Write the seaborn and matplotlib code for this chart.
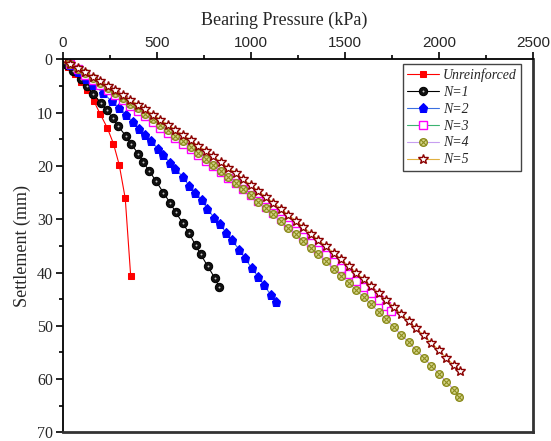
import matplotlib
matplotlib.use("Agg")
import matplotlib.pyplot as plt
import seaborn as sns
from matplotlib.ticker import MultipleLocator

sns.set_theme(style="ticks")
plt.rcParams["font.family"] = ["Liberation Serif", "DejaVu Serif"]

# bearing pressure (kPa) / settlement (mm)
unr_p = [0, 30, 66, 100, 128, 167, 199, 238, 270, 301, 333, 362]
unr_s = [0, 1.4, 2.8, 4.2, 5.7, 7.9, 10.2, 12.9, 15.8, 19.8, 26.1, 40.7]

n1_p = [0, 25, 57, 96, 130, 163, 204, 234, 266, 296, 337, 362, 402, 429, 461,
        496, 535, 571, 601, 638, 672, 707, 734, 771, 810, 833]
n1_s = [0, 1.0, 2.2, 3.7, 5.1, 6.5, 8.2, 9.6, 11.0, 12.6, 14.4, 15.8, 17.7, 19.3, 21.0,
        22.8, 25.0, 26.9, 28.7, 30.7, 32.6, 34.9, 36.6, 38.8, 41.1, 42.8]

n2_p = [0, 40, 82, 122, 163, 216, 261, 301, 337, 372, 408, 438, 468, 509, 532, 571,
        597, 638, 672, 705, 739, 769, 804, 836, 868, 898, 939, 969, 1005, 1040, 1072,
        1106, 1134]
n2_s = [0, 1.1, 2.4, 3.6, 4.8, 6.3, 7.9, 9.1, 10.4, 11.8, 13.0, 14.2, 15.4, 16.8, 17.9, 19.4,
        20.5, 22.0, 23.7, 25.0, 26.4, 28.0, 29.7, 30.9, 32.5, 33.9, 35.7, 37.3, 39.2, 40.8, 42.4,
        44.2, 45.5]

n3_p = [0, 40, 80, 120, 160, 200, 240, 280, 320, 360, 400, 440, 480, 520, 560, 600,
        640, 680, 720, 760, 800, 840, 880, 920, 960, 1000, 1040, 1080, 1120, 1160, 1200,
        1240, 1280, 1320, 1360, 1400, 1440, 1480, 1520, 1560, 1600, 1640, 1680, 1720, 1745]
n3_s = [0, 0.9, 1.9, 2.9, 3.8, 4.8, 5.8, 6.7, 7.7, 8.7, 9.7, 10.7, 11.7, 12.8, 13.8, 14.8,
        15.9, 16.9, 18.0, 19.0, 20.1, 21.2, 22.2, 23.3, 24.4, 25.5, 26.6, 27.7, 28.8, 30.0, 31.1,
        32.2, 33.4, 34.5, 35.7, 36.8, 38.0, 39.2, 40.3, 41.5, 42.7, 43.9, 45.1, 46.3, 47.3]

n4_p = [0, 40, 80, 120, 160, 200, 240, 280, 320, 360, 400, 440, 480, 520, 560, 600,
        640, 680, 720, 760, 800, 840, 880, 920, 960, 1000, 1040, 1080, 1120, 1160, 1200,
        1240, 1280, 1320, 1360, 1400, 1440, 1480, 1520, 1560, 1600, 1640, 1680, 1720, 1760,
        1800, 1840, 1880, 1920, 1960, 2000, 2040, 2080, 2105]
n4_s = [0, 0.9, 1.8, 2.6, 3.5, 4.5, 5.4, 6.3, 7.3, 8.3, 9.2, 10.2, 11.2, 12.3, 13.3, 14.3,
        15.4, 16.5, 17.6, 18.7, 19.8, 20.9, 22.0, 23.2, 24.3, 25.5, 26.7, 27.9, 29.1, 30.3, 31.6,
        32.8, 34.1, 35.4, 36.6, 37.9, 39.3, 40.6, 41.9, 43.3, 44.6, 46.0, 47.4, 48.8, 50.2,
        51.7, 53.1, 54.6, 56.0, 57.5, 59.0, 60.5, 62.0, 63.3]

n5_p = [0, 40, 80, 120, 160, 200, 240, 280, 320, 360, 400, 440, 480, 520, 560, 600,
        640, 680, 720, 760, 800, 840, 880, 920, 960, 1000, 1040, 1080, 1120, 1160, 1200,
        1240, 1280, 1320, 1360, 1400, 1440, 1480, 1520, 1560, 1600, 1640, 1680, 1720, 1760,
        1800, 1840, 1880, 1920, 1960, 2000, 2040, 2080, 2112]
n5_s = [0, 0.8, 1.6, 2.4, 3.3, 4.1, 5.0, 5.8, 6.7, 7.6, 8.5, 9.4, 10.4, 11.3, 12.3, 13.2,
        14.2, 15.2, 16.2, 17.2, 18.2, 19.3, 20.3, 21.4, 22.5, 23.6, 24.7, 25.8, 26.9, 28.0, 29.2,
        30.3, 31.5, 32.7, 33.9, 35.1, 36.3, 37.5, 38.8, 40.0, 41.3, 42.6, 43.9, 45.2, 46.5,
        47.8, 49.1, 50.5, 51.8, 53.2, 54.6, 56.0, 57.4, 58.4]

series = [
    ("Unreinforced", unr_p, unr_s, dict(color="#ff0000", marker="s", ms=5, mfc="#ff0000", mec="#ff0000")),
    ("N=1", n1_p, n1_s, dict(color="#000000", marker="o", ms=6, mfc="#111111", mec="#000000")),
    ("N=2", n2_p, n2_s, dict(color="#3a6fe0", marker="p", ms=6.5, mfc="#0000ff", mec="#0000ff")),
    ("N=3", n3_p, n3_s, dict(color="#3cb371", marker="s", ms=5.5, mfc="white", mec="#ff00ff", mew=1.0)),
    ("N=4", n4_p, n4_s, dict(color="#c79ff0", marker="o", ms=5.5, mfc="#d6d68c", mec="#8c8c1e", mew=1.0)),
    ("N=5", n5_p, n5_s, dict(color="#e0b040", marker="*", ms=7.5, mfc="white", mec="#8b0000", mew=1.0)),
]

fig = plt.figure(figsize=(5.51, 4.41), dpi=100)
ax = fig.add_axes([0.1136, 0.0195, 0.8537, 0.846])

extra = {}
for name, p, s, st in series:
    sns.lineplot(x=p, y=s, ax=ax, label=name, sort=False, estimator=None,
                 linewidth=0.8, **st)
    if name == "N=1":
        # tiny highlight so the balls read like the reference spheres
        hl, = ax.plot(p, s, linestyle="none", marker="o", ms=1.4, mfc="#c8c8c8", mec="none")
        extra[name] = hl
    if name == "N=4":
        cx, = ax.plot(p, s, linestyle="none", marker="x", ms=3.8, mew=0.8, color="#8c8c1e")
        extra[name] = cx

ax.set_xlim(0, 2500)
ax.set_ylim(70, 0)
ax.xaxis.tick_top()
ax.xaxis.set_label_position("top")
ax.xaxis.set_major_locator(MultipleLocator(500))
ax.xaxis.set_minor_locator(MultipleLocator(250))
ax.yaxis.set_major_locator(MultipleLocator(10))
ax.yaxis.set_minor_locator(MultipleLocator(5))
ax.tick_params(axis="both", which="major", direction="out", length=5, width=1.2, color="black")
ax.tick_params(axis="both", which="minor", direction="out", length=3, width=1.2, color="black")
ax.tick_params(axis="x", labelsize=11, pad=2)
ax.tick_params(axis="y", labelsize=11.5, pad=2)
for lab in ax.get_xticklabels():
    lab.set_family(["Liberation Sans", "DejaVu Sans"])

ax.set_xlabel("Bearing Pressure (kPa)", fontsize=13)
ax.xaxis.set_label_coords(0.472, 1.092)
ax.set_ylabel("Settlement (mm)", fontsize=13, labelpad=4)

for side in ["top", "left"]:
    ax.spines[side].set_color("black")
    ax.spines[side].set_linewidth(1.3)
for side in ["right", "bottom"]:
    ax.spines[side].set_color("#333333")
    ax.spines[side].set_linewidth(2)

handles, labels = ax.get_legend_handles_labels()
handles = [(h, extra[l]) if l in extra else h for h, l in zip(handles, labels)]
leg = ax.legend(handles, labels, loc="upper right", bbox_to_anchor=(0.9745, 0.9875), frameon=True,
                fancybox=False, edgecolor="#444444", framealpha=1,
                prop={"family": "Liberation Serif", "style": "italic", "size": 10},
                handlelength=2.3, handletextpad=0.3, labelspacing=0.28,
                borderpad=0.3, borderaxespad=0)
leg.get_frame().set_linewidth(1.0)

fig.savefig("out.png", dpi=100)
